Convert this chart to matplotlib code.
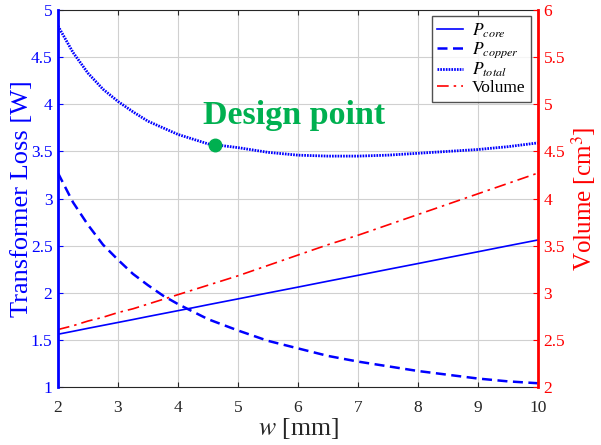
import matplotlib
matplotlib.use("Agg")
import matplotlib.pyplot as plt

plt.rcParams["font.family"] = ["Liberation Serif", "DejaVu Serif"]
plt.rcParams["mathtext.fontset"] = "stix"

BLUE = "#0000ff"
RED = "#ff0000"
GREEN = "#00b050"
DARK = "#262626"

# data
w = [2, 2.25, 2.5, 2.75, 3, 3.25, 3.5, 3.75, 4, 4.25, 4.5, 4.75, 5,
     5.5, 6, 6.5, 7, 7.5, 8, 8.5, 9, 9.5, 10]
p_core = [1.560, 1.591, 1.623, 1.654, 1.685, 1.716, 1.748, 1.779, 1.810, 1.841, 1.873,
          1.904, 1.935, 1.998, 2.060, 2.123, 2.185, 2.248, 2.310, 2.373, 2.435, 2.498, 2.560]
p_copper = [3.27, 2.96, 2.72, 2.51, 2.35, 2.20, 2.08, 1.97, 1.88, 1.80, 1.72, 1.66, 1.60,
            1.49, 1.41, 1.33, 1.27, 1.22, 1.17, 1.13, 1.09, 1.06, 1.04]
p_total = [4.83, 4.55, 4.33, 4.16, 4.03, 3.92, 3.82, 3.75, 3.68, 3.63, 3.58, 3.56, 3.54,
           3.49, 3.46, 3.45, 3.45, 3.46, 3.48, 3.50, 3.52, 3.55, 3.59]
volume = [2.61, 2.65, 2.70, 2.74, 2.79, 2.83, 2.88, 2.93, 2.98, 3.03, 3.08, 3.13, 3.18,
          3.29, 3.40, 3.51, 3.61, 3.72, 3.83, 3.94, 4.05, 4.16, 4.27]
design_w, design_p = 4.62, 3.57

fig = plt.figure(figsize=(6.01, 4.45), dpi=100)
ax = fig.add_axes([0.0965, 0.1303, 0.7985, 0.8472])
ax2 = ax.twinx()

l1, = ax.plot(w, p_core, color=BLUE, lw=1.2, label="$P_{core}$")
l2, = ax.plot(w, p_copper, color=BLUE, lw=1.8, ls=(0, (4, 2.2)), label="$P_{copper}$")
l3, = ax.plot(w, p_total, color=BLUE, lw=2.0, ls=(0, (0.6, 0.4)), label="$P_{total}$")
l4, = ax2.plot(w, volume, color=RED, lw=1.2, ls=(0, (7, 3, 1.5, 3)), label="Volume")
ax.plot([design_w], [design_p], "o", color=GREEN, ms=9, zorder=5)
ax.text(4.42, 3.79, "Design point", color=GREEN, fontsize=24.5, fontweight="bold",
        ha="left", va="baseline")

ax.set_xlim(2, 10)
ax.set_ylim(1, 5)
ax2.set_ylim(2, 6)
ax.set_xticks(range(2, 11))
ax.set_yticks([1, 1.5, 2, 2.5, 3, 3.5, 4, 4.5, 5])
ax.set_yticklabels(["1", "1.5", "2", "2.5", "3", "3.5", "4", "4.5", "5"])
ax2.set_yticks([2, 2.5, 3, 3.5, 4, 4.5, 5, 5.5, 6])
ax2.set_yticklabels(["2", "2.5", "3", "3.5", "4", "4.5", "5", "5.5", "6"])
ax.grid(True, color="#d0d0d0", lw=0.8)

ax.tick_params(axis="x", direction="in", top=True, labelsize=12.5, colors=DARK, pad=9)
ax.tick_params(axis="y", direction="in", colors=BLUE, labelsize=12.5, pad=4)
ax2.tick_params(axis="y", direction="in", colors=RED, labelsize=12.5, pad=4)

for sp in ("top", "bottom"):
    ax.spines[sp].set_color(DARK)
    ax2.spines[sp].set_visible(False)
ax2.spines["left"].set_color(BLUE)
ax2.spines["left"].set_linewidth(2)
ax2.spines["right"].set_color(RED)
ax2.spines["right"].set_linewidth(2)
ax.spines["right"].set_visible(False)
ax.spines["left"].set_visible(False)

ax.set_xlabel("$w$ [mm]", fontsize=18.5, color=DARK, labelpad=0)
ax.set_ylabel("Transformer Loss [W]", fontsize=19, color=BLUE, labelpad=-1.5)
ax2.set_ylabel("Volume [cm$^3$]", fontsize=18, color=RED, labelpad=3)

leg = ax2.legend(handles=[l1, l2, l3, l4], loc="upper right", fontsize=12.5,
                 frameon=True, fancybox=False, edgecolor=DARK,
                 handlelength=1.5, handletextpad=0.5, borderpad=0.3,
                 labelspacing=0.05, borderaxespad=0,
                 bbox_to_anchor=(0.985, 0.984))
leg.get_frame().set_linewidth(1.0)

fig.savefig("out.png", dpi=100)
